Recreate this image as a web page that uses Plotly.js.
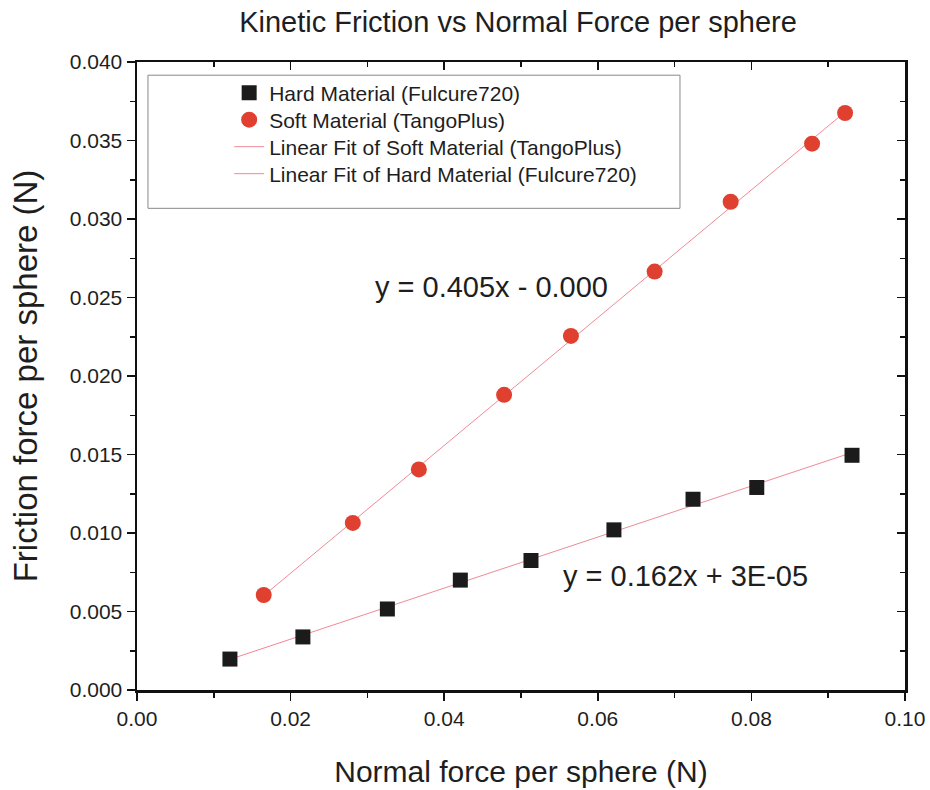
<!DOCTYPE html>
<html>
<head>
<meta charset="utf-8">
<script src="https://cdn.plot.ly/plotly-3.0.1.min.js"></script>
<style>html,body{margin:0;padding:0;background:#fff;}#chart{width:930px;height:790px;}</style>
</head>
<body>
<div id="chart"></div>
<script>
// Data
const hardNormal = [0.0121, 0.0216, 0.0326, 0.0421, 0.0513, 0.0621, 0.0724, 0.0807, 0.0931];
const hardFriction = [0.00197, 0.00338, 0.00516, 0.00700, 0.00825, 0.01020, 0.01215, 0.01290, 0.01495];
const softNormal = [0.0165, 0.0281, 0.0367, 0.0478, 0.0565, 0.0674, 0.0773, 0.0879, 0.0922];
const softFriction = [0.00605, 0.01064, 0.01405, 0.01880, 0.02255, 0.02665, 0.03110, 0.03480, 0.03675];
const seriesNames = ["Hard Material (Fulcure720)", "Soft Material (TangoPlus)",
  "Linear Fit of Soft Material (TangoPlus)", "Linear Fit of Hard Material (Fulcure720)"];
const fitLabels = ["y = 0.405x - 0.000", "y = 0.162x + 3E-05"];
const xTickVals = [0, 0.02, 0.04, 0.06, 0.08, 0.10];
const xTickText = ["0.00", "0.02", "0.04", "0.06", "0.08", "0.10"];
const yTickVals = [0, 0.005, 0.010, 0.015, 0.020, 0.025, 0.030, 0.035, 0.040];
const yTickText = ["0.000", "0.005", "0.010", "0.015", "0.020", "0.025", "0.030", "0.035", "0.040"];

// least-squares fit of each series, evaluated at its first and last point
function fit(xs, ys) {
  const n = xs.length;
  const mx = xs.reduce((a, b) => a + b, 0) / n;
  const my = ys.reduce((a, b) => a + b, 0) / n;
  let sxy = 0, sxx = 0;
  for (let i = 0; i < n; i++) { sxy += (xs[i] - mx) * (ys[i] - my); sxx += (xs[i] - mx) ** 2; }
  const m = sxy / sxx, b = my - m * mx;
  const x0 = Math.min(...xs), x1 = Math.max(...xs);
  return { x: [x0, x1], y: [m * x0 + b, m * x1 + b] };
}
const softFit = fit(softNormal, softFriction);
const hardFit = fit(hardNormal, hardFriction);

const font = "Arial, 'Liberation Sans', sans-serif";
const fitColor = "#f08a96";
const textColor = "#1e1e1e";

const traces = [
  { x: hardFit.x, y: hardFit.y, mode: "lines", name: seriesNames[3], showlegend: false,
    line: { color: fitColor, width: 1 }, hoverinfo: "skip" },
  { x: softFit.x, y: softFit.y, mode: "lines", name: seriesNames[2], showlegend: false,
    line: { color: fitColor, width: 1 }, hoverinfo: "skip" },
  { x: hardNormal, y: hardFriction, mode: "markers", name: seriesNames[0], legend: "legend",
    marker: { symbol: "square", size: 15, color: "#1b1b1b" } },
  { x: softNormal, y: softFriction, mode: "markers", name: seriesNames[1], legend: "legend2",
    marker: { symbol: "circle", size: 16, color: "#e0402f" } },
  { x: [null], y: [null], mode: "lines", name: seriesNames[2], legend: "legend3",
    line: { color: fitColor, width: 1 } },
  { x: [null], y: [null], mode: "lines", name: seriesNames[3], legend: "legend4",
    line: { color: fitColor, width: 1 } }
];

const axisCommon = {
  showgrid: false, zeroline: false, showline: true, linecolor: "#111", linewidth: 2.5,
  tickcolor: "#111", tickwidth: 1.5, ticklen: 8,
  tickfont: { family: font, size: 21, color: textColor }
};

function legendAt(yPaper) {
  return {
    x: 0.12, y: yPaper, xanchor: "left", yanchor: "middle",
    bgcolor: "rgba(0,0,0,0)", borderwidth: 0,
    font: { family: font, size: 21, color: textColor }, itemwidth: 30
  };
}

const layout = {
  width: 930, height: 790,
  margin: { l: 137, r: 25, t: 62, b: 100 },
  paper_bgcolor: "#fff", plot_bgcolor: "#fff",
  title: { text: "Kinetic Friction vs Normal Force per sphere", font: { family: font, size: 29, color: textColor },
    x: 0.557, xanchor: "center", y: 0.972, yanchor: "middle" },
  xaxis: Object.assign({}, axisCommon, {
    range: [0, 0.1], tickvals: xTickVals, ticktext: xTickText, ticks: "outside",
    minor: { dtick: 0.01, ticks: "outside", ticklen: 5, tickcolor: "#111", tickwidth: 1.5 },
    title: { text: "Normal force per sphere (N)", font: { family: font, size: 30, color: textColor }, standoff: 33 }
  }),
  yaxis: Object.assign({}, axisCommon, {
    range: [0, 0.04], tickvals: yTickVals, ticktext: yTickText, ticks: "outside",
    minor: { dtick: 0.0025, ticks: "outside", ticklen: 5, tickcolor: "#111", tickwidth: 1.5 },
    title: { text: "Friction force per sphere (N)", font: { family: font, size: 33, color: textColor }, standoff: 22 }
  }),
  xaxis2: Object.assign({}, axisCommon, {
    overlaying: "x", side: "top", range: [0, 0.1], tickvals: xTickVals, ticks: "inside",
    showticklabels: false, minor: { dtick: 0.01, ticks: "inside", ticklen: 5, tickcolor: "#111", tickwidth: 1.5 }
  }),
  yaxis2: Object.assign({}, axisCommon, {
    overlaying: "y", side: "right", range: [0, 0.04], tickvals: yTickVals, ticks: "inside",
    showticklabels: false, minor: { dtick: 0.0025, ticks: "inside", ticklen: 5, tickcolor: "#111", tickwidth: 1.5 }
  }),
  legend: legendAt(0.9506),
  legend2: legendAt(0.9076),
  legend3: legendAt(0.8646),
  legend4: legendAt(0.8216),
  shapes: [{ type: "rect", xref: "paper", yref: "paper", x0: 0.0143, x1: 0.707, y0: 0.767, y1: 0.979,
    line: { color: "#888", width: 1 }, fillcolor: "rgba(0,0,0,0)" }],
  annotations: [
    { x: 0.0461, y: 0.02567, xref: "x", yref: "y", text: fitLabels[0], showarrow: false,
      font: { family: font, size: 29, color: textColor } },
    { x: 0.0714, y: 0.00726, xref: "x", yref: "y", text: fitLabels[1], showarrow: false,
      font: { family: font, size: 29, color: textColor } }
  ],
  showlegend: true
};

// invisible trace attaches the mirrored axes so they render
traces.push({ x: [null], y: [null], xaxis: "x2", yaxis: "y2", showlegend: false, hoverinfo: "skip", mode: "markers" });

Plotly.newPlot("chart", traces, layout, { displayModeBar: false, staticPlot: true });
</script>
</body>
</html>
